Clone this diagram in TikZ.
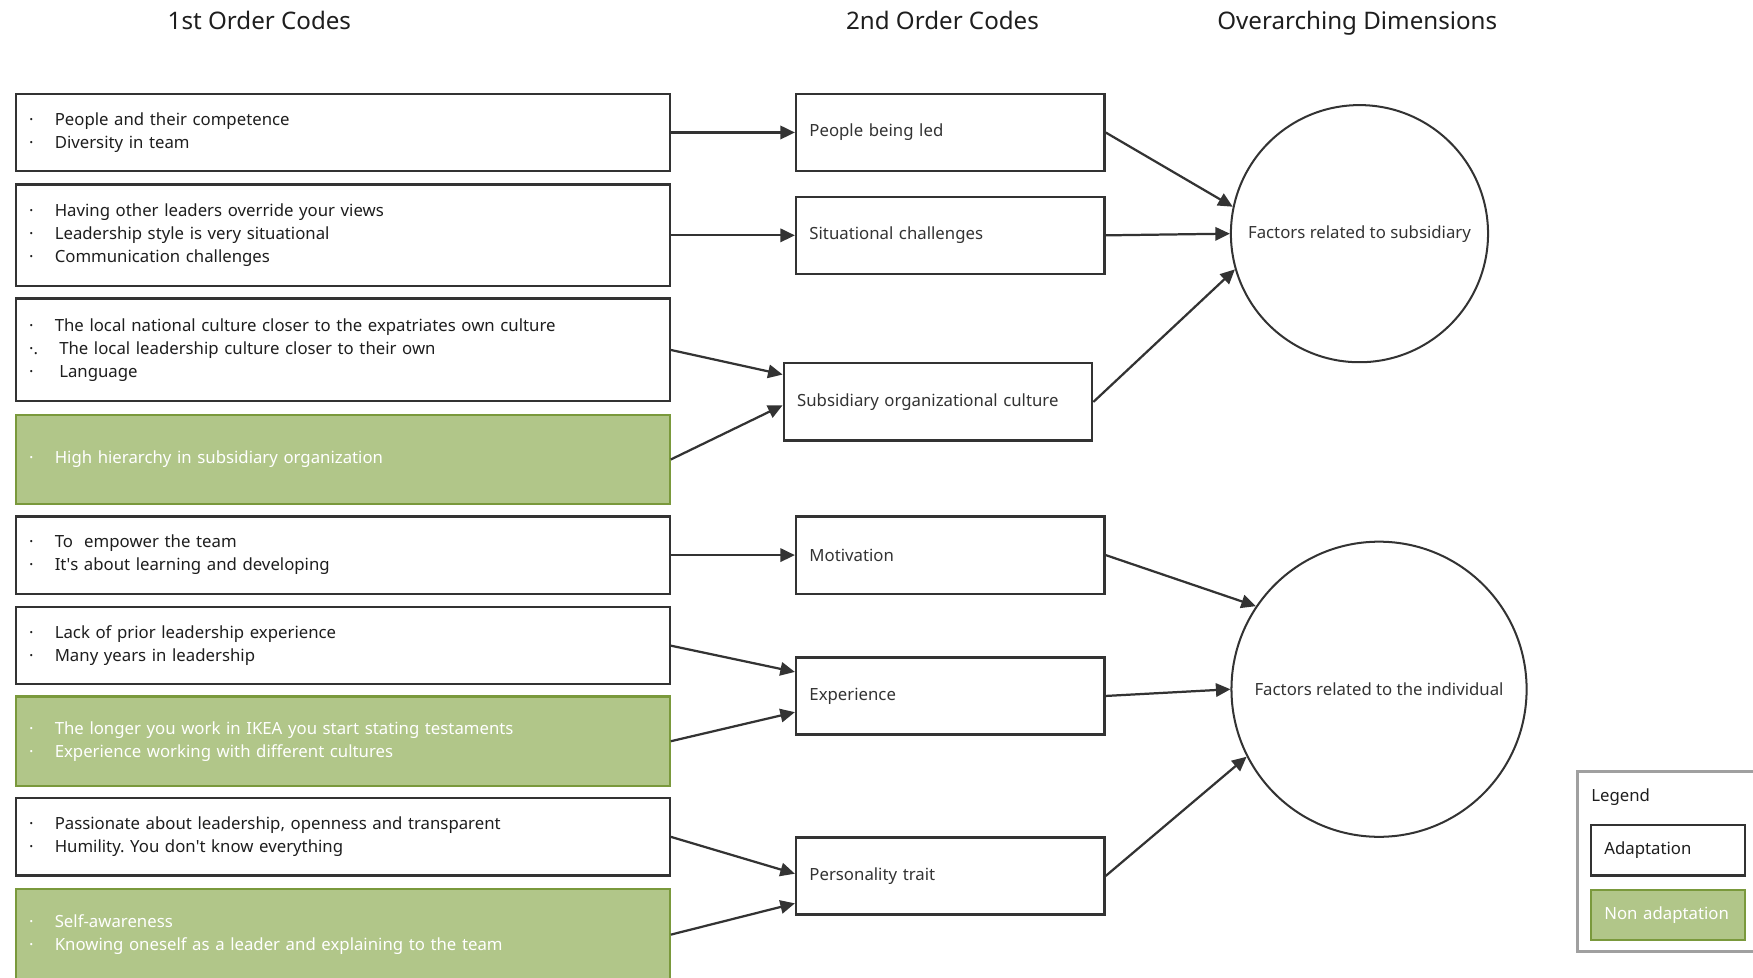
\documentclass[tikz,border=0pt]{standalone}
\usepackage{fontspec}
\setmainfont{Noto Sans}
\usetikzlibrary{arrows.meta,calc}
\frenchspacing
\definecolor{linec}{HTML}{333333}
\definecolor{textc}{HTML}{1E1E1E}
\definecolor{greenfill}{RGB}{177,198,137}
\definecolor{greenline}{RGB}{122,153,60}
\definecolor{legendline}{HTML}{A0A0A0}
% one bulleted line of a first-order code box
\newcommand{\bl}[1]{\makebox[11.5pt][l]{·}#1}
\newcommand{\bodyfont}{\fontsize{7.5}{10.3}\selectfont}
\newcommand{\apos}{\textquotesingle}
\tikzset{
  codebox/.style={draw=linec, line width=1pt, fill=white, text=textc,
    minimum width=292.5pt, text width=280.5pt, inner xsep=6pt, inner ysep=0pt,
    align=left, anchor=north west, font=\bodyfont},
  nonadapt/.style={codebox, fill=greenfill, draw=greenline, text=white},
  midbox/.style={draw=linec, line width=1pt, fill=white, text=linec,
    minimum width=138pt, minimum height=34.5pt, text width=126pt,
    inner xsep=6pt, inner ysep=0pt, align=left, anchor=north west, font=\bodyfont},
  dimension/.style={circle, draw=linec, line width=0.9pt, text=linec,
    inner sep=0pt, align=center, font=\bodyfont},
  heading/.style={text=textc, anchor=base, font=\fontsize{10.8}{13}\selectfont},
  arr/.style={draw=linec, line width=1pt, -{Triangle[length=6.5pt,width=6pt]}},
  legendbox/.style={draw=linec, line width=1pt, fill=white, text=textc,
    minimum width=69pt, minimum height=22.5pt, text width=57pt,
    inner xsep=6pt, inner ysep=0pt, align=left, anchor=north west, font=\bodyfont},
}
\begin{document}
\begin{tikzpicture}[x=0.5pt, y=-0.5pt]
\useasboundingbox (0,0) rectangle (1568,874);

% column headings
\node[heading] (h1) at (232,26) {1st Order Codes};
\node[heading] (h2) at (843,26) {2nd Order Codes};
\node[heading] (h3) at (1214,26) {Overarching Dimensions};

% first-order codes
\node[codebox, minimum height=34.5pt] (c1) at (13,83)
  {\bl{People and their competence}\\\bl{Diversity in team}};
\node[codebox, minimum height=45.5pt] (c2) at (13,164)
  {\bl{Having other leaders override your views}\\\bl{Leadership style is very situational}\\\bl{Communication challenges}};
\node[codebox, minimum height=46pt] (c3) at (13,266)
  {\bl{The local national culture closer to the expatriates own culture}\\
   \makebox[11.5pt][l]{·.}\hspace{2pt}The local leadership culture closer to their own\\
   \makebox[11.5pt][l]{·}\hspace{2pt}Language};
\node[nonadapt, minimum height=40pt] (c4) at (13,370)
  {\bl{High hierarchy in subsidiary organization}};
\node[codebox, minimum height=34.5pt] (c5) at (13,461)
  {\bl{To\ \ empower the team}\\\bl{It\apos s about learning and developing}};
\node[codebox, minimum height=34.5pt] (c6) at (13,542)
  {\bl{Lack of prior leadership experience}\\\bl{Many years in leadership}};
\node[nonadapt, minimum height=40pt] (c7) at (13,622)
  {\bl{The longer you work in IKEA you start stating testaments}\\\bl{Experience working with different cultures}};
\node[codebox, minimum height=34.5pt] (c8) at (13,713)
  {\bl{Passionate about leadership, openness and transparent}\\\bl{Humility. You don\apos t know everything}};
\node[nonadapt, minimum height=41pt] (c9) at (13,794)
  {\bl{Self-awareness}\\\bl{Knowing oneself as a leader and explaining to the team}};

% second-order codes
\node[midbox] (pbl) at (711,83) {People being led};
\node[midbox] (sit) at (711,175) {Situational challenges};
\node[midbox] (soc) at (700,324) {Subsidiary organizational culture};
\node[midbox] (mot) at (711,461) {Motivation};
\node[midbox] (exp) at (711,587) {Experience};
\node[midbox] (per) at (711,748) {Personality trait};

% overarching dimensions
\node[dimension, minimum size=115pt] (sub) at (1216,209) {Factors related to subsidiary};
\node[dimension, minimum size=132pt] (ind) at (1233.5,616.5) {Factors related to the individual};

% first- to second-order links
\draw[arr] (c1.east) -- (pbl.west);
\draw[arr] (c2.east) -- (sit.west);
\draw[arr] (c3.east) -- ([yshift=12.25pt]soc.west);
\draw[arr] (c4.east) -- ([yshift=-1.5pt]soc.west);
\draw[arr] (c5.east) -- (mot.west);
\draw[arr] (c6.east) -- ([yshift=10.75pt]exp.west);
\draw[arr] (c7.east) -- ([yshift=-7.25pt]exp.west);
\draw[arr] (c8.east) -- ([yshift=1pt]per.west);
\draw[arr] (c9.east) -- ([yshift=-12.25pt]per.west);

% second-order codes to dimensions
\draw[arr] (pbl.east) -- (sub.168);
\draw[arr] (sit.east) -- (sub.180);
\draw[arr] (soc.east) -- (sub.196);
\draw[arr] (mot.east) -- (ind.146);
\draw[arr] (exp.east) -- (ind.180);
\draw[arr] (per.east) -- (ind.207);

% legend
\draw[legendline, line width=1pt] (1575,690) -- (1411,690) -- (1411,851) -- (1575,851);
\node[text=textc, font=\bodyfont, anchor=west, inner sep=0pt] (legtitle) at (1423,713) {Legend};
\node[legendbox] (legA) at (1422,737) {Adaptation};
\node[legendbox, fill=greenfill, draw=greenline, text=white] (legN) at (1422,795) {Non adaptation};
\end{tikzpicture}
\end{document}
